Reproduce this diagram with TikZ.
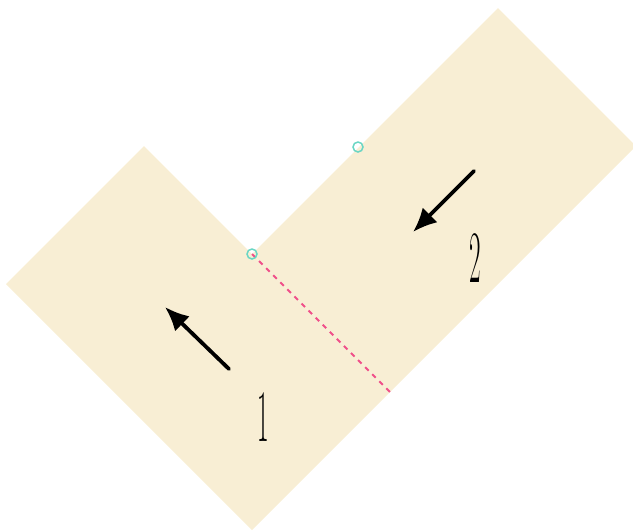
\documentclass[tikz,border=0pt]{standalone}
\usepackage{tikz}
\usetikzlibrary{arrows.meta,positioning,calc}
\definecolor{paperFill}{RGB}{248,238,212}
\definecolor{foldLine}{RGB}{240,80,138}
\definecolor{pinMark}{RGB}{106,214,196}
\tikzset{
    paper/.style={fill=paperFill, draw=none},
    % fold line and pins
    foldStyle/.style={draw=foldLine, line width=2pt, dash pattern=on 5pt off 5pt},
    pinStyle/.style={circle, draw=pinMark, line width=1.5pt, fill=none, minimum size=10pt, inner sep=0pt},
    % Arrows
    moveArrow/.style={-{Latex[length=24pt,width=21pt]}, line width=3.8pt, line cap=round, draw=black},
    partLabel/.style={font=\fontsize{74}{74}\selectfont, xscale=0.34, inner sep=0pt}
}
\begin{document}
\begin{tikzpicture}[x=1pt,y=-1pt]
\useasboundingbox (0,0) rectangle (633,531);
% the two sheets
\fill[paper] (390,392) -- (144,146) -- (6,284) -- (252,530) -- cycle;
\fill[paper] (252,254) -- (498,8) -- (636,146) -- (390,392) -- cycle;
\coordinate (foldTop) at (252,254);
\coordinate (foldEnd) at (390,392);
\draw[foldStyle] (foldTop) -- (foldEnd);
\node[pinStyle] (pinA) at (foldTop) {};
\node[pinStyle] (pinB) at (358,147) {};
% motion
\coordinate (tailA) at (229,369);
\coordinate (tipA) at (165,307);
\coordinate (tailB) at (474,171);
\coordinate (tipB) at (413,232);
\draw[moveArrow] (tailA) -- (tipA);
\draw[moveArrow] (tailB) -- (tipB);
\node[partLabel] (labA) at (263,417) {1};
\node[partLabel] (labB) at (475,258) {2};
\end{tikzpicture}
\end{document}
